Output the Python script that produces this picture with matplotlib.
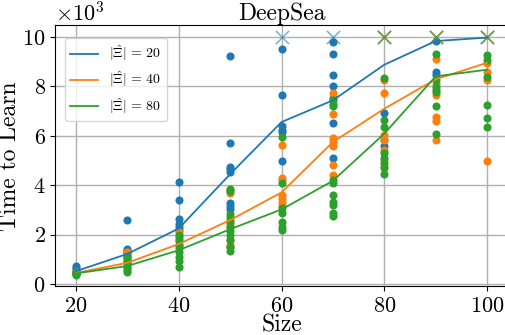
import matplotlib
matplotlib.use("Agg")
import matplotlib.pyplot as plt

plt.rcParams["font.family"] = "cmr10"
plt.rcParams["mathtext.fontset"] = "cm"
plt.rcParams["axes.formatter.use_mathtext"] = True

sizes = [20, 30, 40, 50, 60, 70, 80, 90, 100]
labels = [r"$|\hat{\Xi}|\,=\,20$", r"$|\hat{\Xi}|\,=\,40$", r"$|\hat{\Xi}|\,=\,80$"]
colors = ["#1f77b4", "#ff7f0e", "#2ca02c"]

# runs per size (x1000 steps)
runs_20 = [
    [0.72, 0.63, 0.55, 0.5, 0.45],
    [2.6, 1.42, 1.35, 1.28, 1.2],
    [4.12, 3.42, 2.62, 2.45, 2.3, 2.2],
    [9.22, 5.7, 4.75, 4.65, 4.55, 3.27, 3.15, 3.05],
    [9.5, 7.64, 6.4, 6.25, 6.15, 5.0],
    [9.8, 9.33, 8.45, 8.0, 7.55, 6.52, 5.12],
    [6.93, 5.82, 5.58],
    [9.84, 8.59, 8.45],
    [],
]
runs_40 = [
    [0.5, 0.45, 0.4],
    [1.3, 1.15, 1.0, 0.9],
    [2.1, 1.95, 1.85, 1.75, 1.6],
    [3.8, 3.7, 2.6, 2.45, 2.3, 1.8, 1.6, 1.5],
    [5.65, 4.31, 4.2, 3.6, 3.45, 3.3, 3.15],
    [7.74, 6.87, 5.9, 5.75, 5.6, 4.84, 4.41],
    [8.25, 7.74, 6.02, 5.85, 5.42, 5.01, 4.69],
    [9.1, 8.12, 7.64, 6.77, 6.6, 5.85],
    [8.96, 8.59, 8.25, 4.99],
]
runs_80 = [
    [0.5, 0.45, 0.4, 0.35],
    [1.15, 1.05, 0.95, 0.85, 0.75, 0.65, 0.55, 0.48],
    [2.0, 1.8, 1.6, 1.45, 1.3, 1.1, 0.95, 0.68],
    [3.85, 3.75, 2.85, 2.7, 2.5, 2.3, 2.15, 2.0, 1.8, 1.5, 1.32],
    [5.96, 4.11, 3.06, 2.86, 2.52, 2.29, 2.18],
    [7.44, 7.3, 7.2, 4.2, 4.1, 3.6, 3.33, 3.2, 2.86, 2.76],
    [8.35, 6.66, 6.34, 5.3, 5.1, 4.9, 4.74, 4.45],
    [9.33, 8.25, 7.98, 7.85, 7.78, 7.2, 6.07],
    [9.26, 9.09, 8.38, 7.24, 6.73, 6.36],
]

# sizes where some runs hit the 10k cap
capped_20 = [60, 70, 80, 90, 100]
capped_40 = [80, 90, 100]
capped_80 = [80, 90, 100]
cap = 10.0

mean_20 = [0.52, 1.22, 2.25, 4.45, 6.56, 7.44, 8.88, 9.84, 9.98]
mean_40 = [0.45, 0.86, 1.62, 2.59, 3.71, 5.75, 7.1, 8.29, 8.96]
mean_80 = [0.43, 0.73, 1.37, 2.22, 3.02, 4.18, 6.09, 8.41, 8.68]

all_runs = [runs_20, runs_40, runs_80]
all_capped = [capped_20, capped_40, capped_80]
all_means = [mean_20, mean_40, mean_80]

fig = plt.figure(figsize=(5.05, 3.35), dpi=100)
ax = fig.add_axes([0.1098, 0.1448, 0.8953, 0.7791])

for runs, capped, means, c, lab in zip(all_runs, all_capped, all_means, colors, labels):
    xs = []
    ys = []
    for s, r in zip(sizes, runs):
        xs += [s] * len(r)
        ys += [v * 1000 for v in r]
    ax.scatter(xs, ys, s=34, color=c, linewidths=0, zorder=3)
    ax.scatter(capped, [cap * 1000] * len(capped), s=90, marker="x",
               color=c, linewidths=1.1, alpha=0.6, zorder=3)
    ax.plot(sizes, [m * 1000 for m in means], color=c, lw=1.3, label=lab, zorder=4)

ax.set_xlim(16, 104)
ax.set_ylim(-100, 10470)
ax.set_xticks([20, 40, 60, 80, 100])
ax.set_yticks([0, 2000, 4000, 6000, 8000, 10000])
ax.ticklabel_format(axis="y", style="sci", scilimits=(3, 3))
ax.tick_params(labelsize=16)
ax.yaxis.get_offset_text().set_fontsize(16)
ax.grid(True, color="#b0b0b0", lw=1.0)
ax.set_axisbelow(True)

ax.set_title("DeepSea", fontsize=17, pad=3)
ax.set_xlabel("Size", fontsize=17, labelpad=-1)
ax.set_ylabel("Time to Learn", fontsize=17, labelpad=1)
ax.legend(loc="upper left", fontsize=10, bbox_to_anchor=(0.021, 0.952),
          borderaxespad=0, labelspacing=0.45)

fig.savefig("out.png", dpi=100)
